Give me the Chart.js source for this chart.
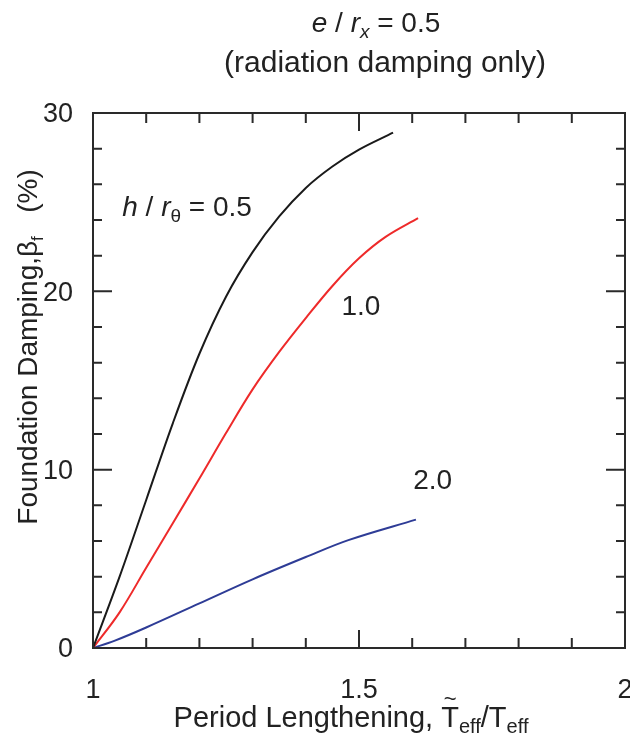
<!DOCTYPE html>
<html>
<head>
<meta charset="utf-8">
<script src="https://cdn.jsdelivr.net/npm/chart.js@4.4.0/dist/chart.umd.min.js"></script>
<style>
	html, body { margin: 0; padding: 0; background: #fff; }
	#wrap { width: 630px; height: 737px; position: relative; }
</style>
</head>
<body>
<div id="wrap"><canvas id="dampingChart" width="630" height="737"></canvas></div>
<script>
// h / r_theta = 0.5
var xBlack = [1.0, 1.05, 1.1, 1.15, 1.2, 1.25, 1.3, 1.35, 1.4, 1.45, 1.5, 1.564];
var yBlack = [0, 4.0, 8.3, 12.6, 16.5, 19.7, 22.2, 24.2, 25.8, 27.0, 27.95, 28.9];
// h / r_theta = 1.0
var xRed = [1.0, 1.05, 1.1, 1.15, 1.2, 1.25, 1.3, 1.35, 1.4, 1.45, 1.5, 1.55, 1.611];
var yRed = [0, 2.0, 4.5, 7.0, 9.5, 12.05, 14.5, 16.6, 18.5, 20.3, 21.85, 23.05, 24.1];
// h / r_theta = 2.0
var xBlue = [1.0, 1.04, 1.1, 1.2, 1.3, 1.4, 1.48, 1.607];
var yBlue = [0, 0.4, 1.15, 2.5, 3.85, 5.1, 6.05, 7.2];

var xMajor = [1, 1.5, 2];
var yMajor = [0, 10, 20, 30];

// curve labels: [x, y] of text baseline start
var labelBlack = [1.055, 24.2];
var labelRed = [1.467, 18.7];
var labelBlue = [1.602, 8.9];

var FONT = "'Liberation Sans', Arial, Helvetica, sans-serif";

function toPoints(xs, ys) {
	return xs.map(function (x, i) {
		return { x: x, y: ys[i] };
	});
}

function isMajor(v, list) {
	return list.some(function (m) {
		return Math.abs(v - m) < 1e-6;
	});
}

// draw text made of several parts (italic / subscript) starting at x
function drawParts(ctx, parts, x, y, align) {
	var total = 0;
	parts.forEach(function (p) {
		ctx.font = (p.italic ? "italic " : "") + p.size + "px " + FONT;
		p.w = ctx.measureText(p.t).width;
		total += p.w;
	});
	var cx = x;
	if (align === "center") cx = x - total / 2;
	ctx.textAlign = "left";
	ctx.textBaseline = "alphabetic";
	parts.forEach(function (p) {
		ctx.font = (p.italic ? "italic " : "") + p.size + "px " + FONT;
		ctx.fillText(p.t, cx, y + (p.dy || 0));
		p.x = cx;
		cx += p.w;
	});
	return parts;
}

var framePlugin = {
	id: "frame",
	afterDraw: function (chart) {
		var ctx = chart.ctx;
		var a = chart.chartArea;
		var xs = chart.scales.x;
		var ys = chart.scales.y;
		ctx.save();
		ctx.strokeStyle = "#2a2a2a";
		ctx.lineWidth = 2;
		ctx.strokeRect(a.left, a.top, a.right - a.left, a.bottom - a.top);

		// inward ticks on all four sides
		xs.ticks.forEach(function (t) {
			var px = xs.getPixelForValue(t.value);
			var len = isMajor(t.value, xMajor) ? 18 : 10;
			ctx.beginPath();
			ctx.moveTo(px, a.bottom);
			ctx.lineTo(px, a.bottom - len);
			ctx.moveTo(px, a.top);
			ctx.lineTo(px, a.top + len);
			ctx.stroke();
		});
		ys.ticks.forEach(function (t) {
			var py = ys.getPixelForValue(t.value);
			var len = isMajor(t.value, yMajor) ? 19 : 9;
			ctx.beginPath();
			ctx.moveTo(a.left, py);
			ctx.lineTo(a.left + len, py);
			ctx.moveTo(a.right, py);
			ctx.lineTo(a.right - len, py);
			ctx.stroke();
		});

		ctx.fillStyle = "#222";

		// title
		drawParts(ctx, [
			{ t: "e", size: 28, italic: true },
			{ t: " / ", size: 28 },
			{ t: "r", size: 28, italic: true },
			{ t: "x", size: 19, italic: true, dy: 6 },
			{ t: " = 0.5", size: 28 },
		], 376, 32, "center");
		drawParts(ctx, [{ t: "(radiation damping only)", size: 30 }], 385, 72, "center");

		// curve labels
		drawParts(ctx, [
			{ t: "h", size: 28, italic: true },
			{ t: " / ", size: 28 },
			{ t: "r", size: 28, italic: true },
			{ t: "\u03b8", size: 19, dy: 6 },
			{ t: " = 0.5", size: 28 },
		], xs.getPixelForValue(labelBlack[0]), ys.getPixelForValue(labelBlack[1]), "left");
		drawParts(ctx, [{ t: "1.0", size: 28 }], xs.getPixelForValue(labelRed[0]), ys.getPixelForValue(labelRed[1]), "left");
		drawParts(ctx, [{ t: "2.0", size: 28 }], xs.getPixelForValue(labelBlue[0]), ys.getPixelForValue(labelBlue[1]), "left");

		// x axis title
		var xt = drawParts(ctx, [
			{ t: "Period Lengthening, ", size: 29 },
			{ t: "T", size: 29 },
			{ t: "eff", size: 20, dy: 6 },
			{ t: "/T", size: 29 },
			{ t: "eff", size: 20, dy: 6 },
		], 351, 727, "center");
		ctx.font = "22px " + FONT;
		ctx.textAlign = "center";
		ctx.fillText("~", xt[1].x + xt[1].w / 2, 706);

		// y axis title
		ctx.save();
		ctx.translate(37, 347);
		ctx.rotate(-Math.PI / 2);
		drawParts(ctx, [
			{ t: "Foundation Damping,\u03b2", size: 28 },
			{ t: "f", size: 17, dy: 6 },
			{ t: "   (%)", size: 28 },
		], 0, 0, "center");
		ctx.restore();

		ctx.restore();
	},
};

var tickFont = { family: FONT, size: 27 };

var ctxChart = document.getElementById("dampingChart");
var dampingChart = new Chart(ctxChart, {
	type: "scatter",
	data: {
		datasets: [
			{
				label: "h/r = 0.5",
				data: toPoints(xBlack, yBlack),
				borderColor: "#1a1a1a",
				borderWidth: 2,
				showLine: true,
				pointRadius: 0,
				tension: 0.35,
			},
			{
				label: "h/r = 1.0",
				data: toPoints(xRed, yRed),
				borderColor: "#ee2a2a",
				borderWidth: 2,
				showLine: true,
				pointRadius: 0,
				tension: 0.35,
			},
			{
				label: "h/r = 2.0",
				data: toPoints(xBlue, yBlue),
				borderColor: "#2e3c96",
				borderWidth: 2,
				showLine: true,
				pointRadius: 0,
				tension: 0.35,
			},
		],
	},
	options: {
		responsive: false,
		animation: false,
		events: [],
		layout: {
			padding: { left: 0, top: 113, right: 5, bottom: 29 },
		},
		plugins: {
			legend: { display: false },
			tooltip: { enabled: false },
		},
		scales: {
			x: {
				type: "linear",
				min: 1,
				max: 2,
				grid: { display: false, drawTicks: false },
				border: { display: false },
				ticks: {
					stepSize: 0.1,
					autoSkip: false,
					maxRotation: 0,
					padding: 26,
					color: "#222",
					font: tickFont,
					callback: function (v) {
						return isMajor(v, xMajor) ? String(Math.round(v * 10) / 10) : "";
					},
				},
				afterFit: function (scale) {
					scale.height = 60;
					scale.paddingLeft = 0;
					scale.paddingRight = 0;
				},
			},
			y: {
				min: 0,
				max: 30,
				grid: { display: false, drawTicks: false },
				border: { display: false },
				ticks: {
					stepSize: 2,
					autoSkip: false,
					padding: 20,
					labelOffset: 2,
					color: "#222",
					font: tickFont,
					callback: function (v) {
						return isMajor(v, yMajor) ? String(v) : "";
					},
				},
				afterFit: function (scale) {
					scale.width = 93;
					scale.paddingTop = 0;
					scale.paddingBottom = 0;
				},
			},
		},
	},
	plugins: [framePlugin],
});
</script>
</body>
</html>
